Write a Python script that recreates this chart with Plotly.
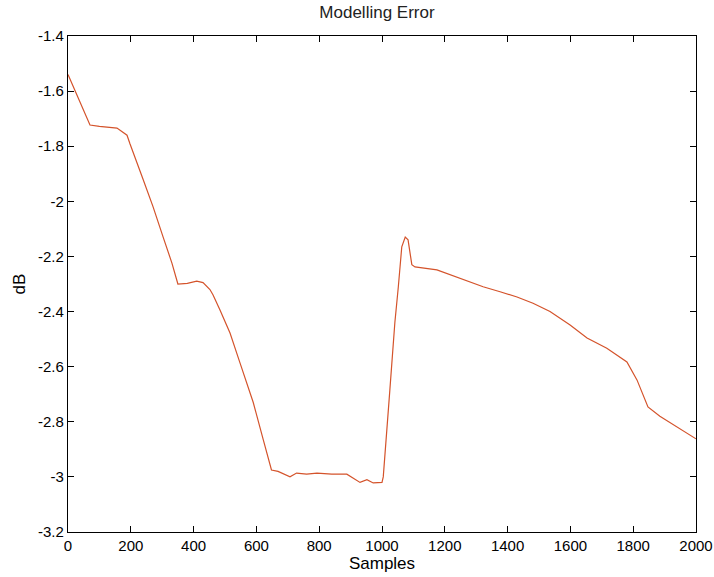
import plotly.graph_objects as go

samples = [0, 70, 100, 130, 156, 188, 197, 239, 271, 303, 331, 350, 380, 410, 430, 452, 462, 484,
           516, 548, 590, 622, 648, 669, 707, 728, 760, 793, 840, 888, 930, 952, 972, 1000,
           1004, 1025, 1041, 1052, 1063, 1074, 1083, 1095, 1105, 1175, 1248, 1322, 1376,
           1430, 1481, 1535, 1599, 1653, 1716, 1780, 1812, 1847, 1885, 1939, 2000]
error_db = [-1.54, -1.723, -1.728, -1.73, -1.734, -1.76, -1.79, -1.92, -2.02, -2.13, -2.224, -2.30, -2.298,
            -2.29, -2.295, -2.32, -2.34, -2.394, -2.478, -2.587, -2.73, -2.866, -2.975, -2.98,
            -3.0, -2.986, -2.99, -2.986, -2.99, -2.99, -3.02, -3.01, -3.022, -3.02, -3.0,
            -2.685, -2.44, -2.31, -2.165, -2.13, -2.14, -2.23, -2.238, -2.249, -2.278, -2.31,
            -2.328, -2.347, -2.37, -2.40, -2.449, -2.496, -2.533, -2.583, -2.648, -2.746,
            -2.78, -2.82, -2.862]

x_ticks = [0, 200, 400, 600, 800, 1000, 1200, 1400, 1600, 1800, 2000]
y_ticks = [-1.4, -1.6, -1.8, -2, -2.2, -2.4, -2.6, -2.8, -3, -3.2]

FONT = "Liberation Sans, Arial"

fig = go.Figure(go.Scatter(x=samples, y=error_db, mode="lines",
                           line=dict(color="#D4532B", width=1.2)))

axis_common = dict(showgrid=False, zeroline=False, showline=True, linecolor="black",
                   linewidth=1.3, mirror="ticks", ticks="inside", ticklen=6,
                   tickcolor="black", automargin=False,
                   tickfont=dict(family=FONT, size=15, color="black"))

fig.update_layout(
    width=714, height=577,
    margin=dict(l=68, r=18, t=36, b=45),
    paper_bgcolor="white", plot_bgcolor="white",
    showlegend=False,
    title=dict(text="Modelling Error", x=0.528, xanchor="center", y=0.99, yanchor="top",
               font=dict(family=FONT, size=17, color="#222")),
    font=dict(family=FONT, color="black"),
)
fig.update_xaxes(range=[0, 2000], tickvals=x_ticks, ticktext=[str(t) for t in x_ticks],
                 title=dict(text="Samples", font=dict(size=17), standoff=0), **axis_common)
fig.update_yaxes(range=[-3.2, -1.4], tickvals=y_ticks, ticktext=[f"{t:g}" for t in y_ticks],
                 title=dict(text="dB", font=dict(size=17), standoff=8), **axis_common)

fig.write_html("out.html", config={"displayModeBar": False},
               post_script="document.body.style.margin='0';")
